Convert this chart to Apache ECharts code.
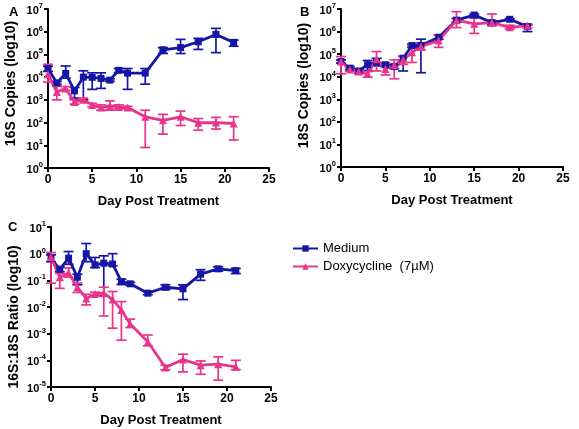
<!DOCTYPE html>
<html><head><meta charset="utf-8">
<script src="https://cdn.jsdelivr.net/npm/echarts@6/dist/echarts.min.js"></script>
<style>html,body{margin:0;padding:0;background:#fff}#c{width:579px;height:429px}</style>
</head><body><div id="c"></div>
<script>
const days = [0,1,2,3,4,5,6,7,8,9,11,13,15,17,19,21];
const xTicks = [0,5,10,15,20,25];
const seriesNames = ['Medium', 'Doxycycline  (7µM)'];

// Panel A: 16S copies
const aMed   = [2.4e4,5.6e3,1.45e4,2.5e3,1.0e4,9.8e3,8.8e3,7.4e3,2.0e4,1.5e4,1.5e4,1.6e5,2.0e5,3.6e5,7.6e5,3.4e5];
const aMedHi = [3.0e4,6.5e3,3.1e4,3.5e3,1.9e4,1.55e4,1.55e4,8.5e3,2.4e4,2.4e4,2.4e4,2.0e5,4.6e5,5.1e5,1.4e6,4.3e5];
const aMedLo = [1.8e4,4.8e3,9e3,1.2e3,1.0e3,2.9e3,3.2e3,6.5e3,1.6e4,2.9e3,4.9e3,1.1e5,1.1e5,1.66e5,1.2e5,2.3e5];
const aDox   = [1.35e4,2.2e3,3.2e3,8.1e2,1.0e3,6e2,4.6e2,5.5e2,4.9e2,4.6e2,1.8e2,1.26e2,1.8e2,98,100,91];
const aDoxHi = [3.7e4,4e3,3.8e3,1.0e3,1.2e3,7e2,6e2,9e2,6e2,5.2e2,3.5e2,2.3e2,3.2e2,1.5e2,1.7e2,1.8e2];
const aDoxLo = [6e3,1.0e3,2.6e3,6.5e2,8.5e2,5e2,3.5e2,3.5e2,4e2,4e2,8,31,74,46,52,17];

// Panel B: 18S copies
const bMed   = [4.7e4,2.4e4,1.8e4,3.4e4,4.4e4,3.4e4,2.8e4,6.6e4,2.4e5,2.4e5,5.6e5,3.2e6,5.4e6,2.5e6,3.5e6,1.66e6];
const bMedHi = [5.5e4,2.8e4,2.1e4,5.2e4,6.5e4,4e4,3.3e4,8e4,2.8e5,4.6e5,6.8e5,3.8e6,6e6,3e6,3.8e6,2e6];
const bMedLo = [4e4,2e4,1.4e4,1.9e4,3e4,2.8e4,2.3e4,1.8e4,2e5,1.5e4,4.6e5,2.6e6,4.8e6,2.1e6,3.2e6,1e6];
const bDox   = [4.7e4,2.1e4,1.7e4,1.35e4,6e4,2.2e4,3.2e4,5.6e4,1.2e5,2.2e5,4e5,3.2e6,2.2e6,2.5e6,1.55e6,1.8e6];
const bDoxHi = [7.8e4,2.5e4,2e4,1.7e4,1.3e5,4e4,5.6e4,8e4,2.5e5,3.2e5,7e5,7.6e6,3.9e6,6e6,1.9e6,2.2e6];
const bDoxLo = [1.35e4,1.8e4,1.4e4,9.5e3,1.8e4,1.2e4,8.1e3,3.5e4,4.3e4,1.5e5,2e5,1.5e6,8.3e5,1.8e6,1.3e6,1.4e6];

// Panel C: 16S:18S ratio
const cMed   = [0.68,0.26,0.68,0.13,1.0,0.38,0.44,0.41,0.089,0.074,0.033,0.055,0.048,0.17,0.27,0.23];
const cMedHi = [0.9,0.32,1.2,0.17,2.4,0.72,0.83,1.0,0.11,0.085,0.038,0.068,0.068,0.25,0.32,0.28];
const cMedLo = [0.5,0.21,0.4,0.068,0.5,0.3,0.026,0.35,0.07,0.065,0.029,0.045,0.019,0.1,0.22,0.18];
const cDox   = [0.74,0.13,0.19,0.055,0.021,0.031,0.033,0.019,0.0078,0.0023,5e-4,5.4e-5,1.07e-4,6.6e-5,7.2e-5,5.7e-5];
const cDoxHi = [1.1,0.18,0.29,0.08,0.03,0.036,0.055,0.038,0.016,0.0035,8.9e-4,6.5e-5,1.7e-4,9.5e-5,1.35e-4,1e-4];
const cDoxLo = [0.078,0.05,0.13,0.035,0.012,0.027,0.0046,0.0016,5.7e-4,0.0017,3.5e-4,4.4e-5,3.7e-5,3e-5,1.8e-5,4.5e-5];

const BLUE = '#1616a6', PINK = '#e8348b';
const FONT = 'Liberation Sans, Arial, sans-serif';

function pairs(v){ return days.map((d,i)=>[d, v[i]]); }
function bars(lo, hi){ return days.map((d,i)=>[d, lo[i], hi[i]]); }

function errSeries(idx, name, lo, hi, color){
  return {
    type:'custom', name: name, xAxisIndex: idx, yAxisIndex: idx, z: 3,
    data: bars(lo, hi), itemStyle:{color: color},
    renderItem: function(params, api){
      const x = api.value(0);
      const p1 = api.coord([x, api.value(1)]);
      const p2 = api.coord([x, api.value(2)]);
      const w = 5;
      const st = {stroke: color, lineWidth: 1.7};
      return {type:'group', children:[
        {type:'line', shape:{x1:p1[0],y1:p1[1],x2:p2[0],y2:p2[1]}, style:st},
        {type:'line', shape:{x1:p1[0]-w,y1:p1[1],x2:p1[0]+w,y2:p1[1]}, style:st},
        {type:'line', shape:{x1:p2[0]-w,y1:p2[1],x2:p2[0]+w,y2:p2[1]}, style:st}
      ]};
    }
  };
}
function lineSeries(idx, name, vals, color, symbol){
  return {
    type:'line', name: name, xAxisIndex: idx, yAxisIndex: idx, z: 4,
    data: pairs(vals), symbol: symbol, symbolSize: symbol==='rect'?7:8,
    lineStyle:{color: color, width: 2.8}, itemStyle:{color: color},
    animation:false
  };
}

const axisLineStyle = {show:true, lineStyle:{color:'#000', width:2}};
const tickStyle = {show:true, length:4, lineStyle:{color:'#000', width:2}};

function xAxis(idx){
  return {
    type:'value', gridIndex: idx, min: xTicks[0], max: xTicks[xTicks.length-1], interval: 5,
    axisLine: axisLineStyle, axisTick: tickStyle, splitLine:{show:false},
    axisLabel:{color:'#000', fontFamily:FONT, fontWeight:'bold', fontSize:12, margin:6},
    name:'Day Post Treatment', nameLocation:'middle', nameGap: 27,
    nameTextStyle:{color:'#000', fontFamily:FONT, fontWeight:'bold', fontSize:13}
  };
}
function yAxis(idx, name, min, max, pad){
  return {
    type:'log', logBase:10, gridIndex: idx, min: min, max: max,
    axisLine: axisLineStyle, axisTick: tickStyle, splitLine:{show:false}, minorTick:{show:false},
    axisLabel:{
      color:'#000', margin:5,
      formatter: function(v){ const e = Math.round(Math.log10(v)); return '{b|10}{s|' + e + '}'; },
      rich:{
        b:{fontFamily:FONT, fontWeight:'bold', fontSize:11, color:'#000', lineHeight:14, verticalAlign:'bottom'},
        s:{fontFamily:FONT, fontWeight:'bold', fontSize:7.5, color:'#000', verticalAlign:'top', lineHeight:14}
      }
    },
    name: name, nameLocation:'middle', nameGap: 30, nameRotate: 90,
    nameTextStyle:{color:'#000', fontFamily:FONT, fontWeight:'bold', fontSize:14, padding: pad}
  };
}

const chart = echarts.init(document.getElementById('c'), null, {renderer:'canvas'});
chart.setOption({
  animation:false,
  backgroundColor:'#fff',
  title:[
    {text:'A', left:4, top:1, textStyle:{fontFamily:FONT, fontWeight:'bold', fontSize:13, color:'#000'}},
    {text:'B', left:295, top:1, textStyle:{fontFamily:FONT, fontWeight:'bold', fontSize:13, color:'#000'}},
    {text:'C', left:3, top:216, textStyle:{fontFamily:FONT, fontWeight:'bold', fontSize:13, color:'#000'}}
  ],
  legend:{
    orient:'vertical', left:287, top:237, itemGap:5, itemWidth:25, itemHeight:8,
    data:[seriesNames[0], seriesNames[1]],
    textStyle:{fontFamily:FONT, fontSize:13, color:'#000'}
  },
  grid:[
    {left:48, top:9, width:221, height:159},
    {left:341, top:9, width:222, height:158},
    {left:51, top:227, width:220, height:160}
  ],
  xAxis:[xAxis(0), xAxis(1), xAxis(2)],
  yAxis:[
    yAxis(0, '16S Copies (log10)', 1, 1e7, [0,0,0,10]),
    yAxis(1, '18S Copies (log10)', 1, 1e7, [0,0,0,5]),
    yAxis(2, '16S:18S Ratio (log10)', 1e-5, 10, [0,20,0,0])
  ],
  series:[
    lineSeries(0, seriesNames[0], aMed, BLUE, 'rect'),
    lineSeries(0, seriesNames[1], aDox, PINK, 'triangle'),
    lineSeries(1, seriesNames[0], bMed, BLUE, 'rect'),
    lineSeries(1, seriesNames[1], bDox, PINK, 'triangle'),
    lineSeries(2, seriesNames[0], cMed, BLUE, 'rect'),
    lineSeries(2, seriesNames[1], cDox, PINK, 'triangle'),
    errSeries(0, seriesNames[0], aMedLo, aMedHi, BLUE),
    errSeries(0, seriesNames[1], aDoxLo, aDoxHi, PINK),
    errSeries(1, seriesNames[0], bMedLo, bMedHi, BLUE),
    errSeries(1, seriesNames[1], bDoxLo, bDoxHi, PINK),
    errSeries(2, seriesNames[0], cMedLo, cMedHi, BLUE),
    errSeries(2, seriesNames[1], cDoxLo, cDoxHi, PINK)
  ]
});
</script></body></html>
